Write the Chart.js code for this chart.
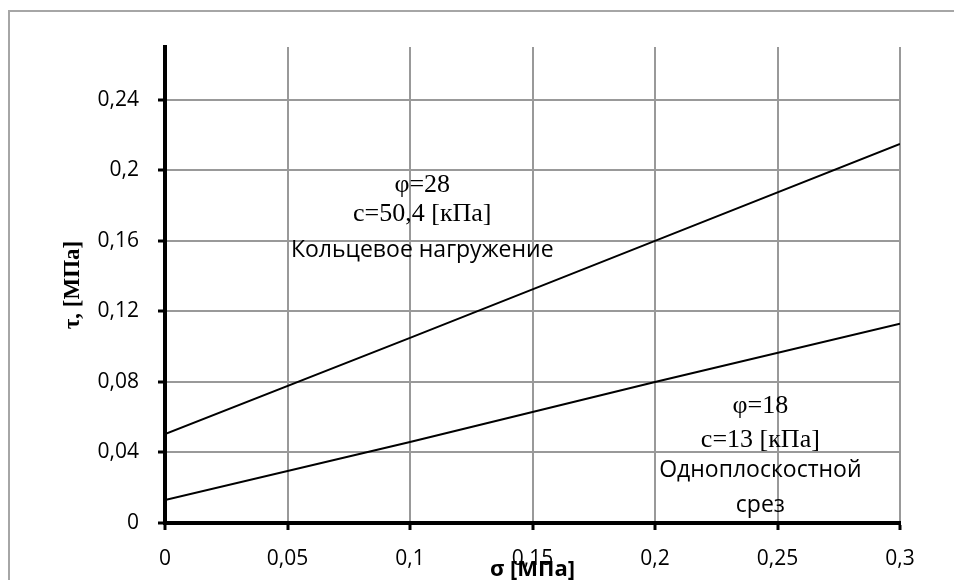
<!DOCTYPE html>
<html>
<head>
<meta charset="utf-8">
<script src="https://cdn.jsdelivr.net/npm/chart.js@4.4.1/dist/chart.umd.min.js"></script>
<style>
  html, body { margin: 0; padding: 0; background: #fff; overflow: hidden; }
  #wrap { position: relative; width: 954px; height: 580px; }
  #frame { position: absolute; left: 8px; top: 10px; width: 2000px; height: 2000px;
           border-left: 2px solid #a6a6a6; border-top: 2px solid #a6a6a6; pointer-events: none; }
</style>
</head>
<body>
<div id="wrap">
  <canvas id="Chart" width="954" height="580"></canvas>
  <div id="frame"></div>
</div>
<script>
// sigma, MPa
const sigma = [0, 0.1, 0.2, 0.3];
// ring shear (phi=28, c=50.4 kPa)
const tauRing = [0.0504, 0.105, 0.160, 0.215];
// direct shear (phi=18, c=13 kPa)
const tauDirect = [0.013, 0.046, 0.080, 0.113];

const xTicks = [0, 0.05, 0.1, 0.15, 0.2, 0.25, 0.3];
const yTicks = [0, 0.04, 0.08, 0.12, 0.16, 0.2, 0.24];

// text notes: [x, y, text, font]
const notes = [
  [0.105, 0.1917, 'φ=28', '26px "Liberation Serif"'],
  [0.105, 0.1752, 'c=50,4 [кПа]', '26px "Liberation Serif"'],
  [0.105, 0.1547, 'Кольцевое нагружение', '23px "Open Sans"'],
  [0.243, 0.0660, 'φ=18', '26px "Liberation Serif"'],
  [0.243, 0.0472, 'c=13 [кПа]', '26px "Liberation Serif"'],
  [0.243, 0.0296, 'Одноплоскостной', '23px "Open Sans"'],
  [0.243, 0.0102, 'срез', '23px "Open Sans"']
];

const fmt = v => String(+(+v).toFixed(2)).replace('.', ',');

const notesPlugin = {
  id: 'notes',
  afterDatasetsDraw(chart) {
    const { ctx, scales: { x, y } } = chart;
    ctx.save();
    ctx.fillStyle = '#000';
    ctx.textAlign = 'center';
    ctx.textBaseline = 'middle';
    notes.forEach(([nx, ny, text, font]) => {
      ctx.font = font;
      ctx.fillText(text, x.getPixelForValue(nx), y.getPixelForValue(ny));
    });
    ctx.restore();
  }
};

const ctx = document.getElementById('Chart').getContext('2d');

new Chart(ctx, {
  type: 'scatter',
  data: {
    datasets: [{
      data: sigma.map((s, i) => ({ x: s, y: tauRing[i] })),
      showLine: true,
      borderColor: '#000',
      borderWidth: 2,
      pointRadius: 0
    }, {
      data: sigma.map((s, i) => ({ x: s, y: tauDirect[i] })),
      showLine: true,
      borderColor: '#000',
      borderWidth: 2,
      pointRadius: 0
    }]
  },
  options: {
    responsive: false,
    animation: false,
    layout: { padding: { top: 47, right: 54, bottom: 0, left: 0 } },
    plugins: {
      legend: { display: false },
      tooltip: { enabled: false }
    },
    scales: {
      x: {
        type: 'linear',
        min: 0,
        max: 0.3,
        afterBuildTicks: s => { s.ticks = xTicks.map(v => ({ value: v })); },
        afterFit: s => { s.height = 57; },
        border: { color: '#000', width: 4 },
        grid: { color: '#999', lineWidth: 2, tickColor: '#000', tickLength: 7, tickWidth: 3 },
        ticks: {
          color: '#000',
          padding: 16,
          font: { family: '"Open Sans"', size: 21 },
          callback: v => fmt(v)
        },
        title: {
          display: true,
          text: 'σ [МПа]',
          color: '#000',
          padding: { top: 0, bottom: -3 },
          font: { family: '"Open Sans"', size: 22, weight: 'bold' }
        }
      },
      y: {
        min: 0,
        max: 0.27,
        afterBuildTicks: s => { s.ticks = yTicks.map(v => ({ value: v })); },
        afterFit: s => { s.width = 165; },
        border: { color: '#000', width: 4 },
        grid: { color: '#999', lineWidth: 2, tickColor: '#000', tickLength: 7, tickWidth: 3 },
        ticks: {
          color: '#000',
          padding: 19,
          font: { family: '"Open Sans"', size: 21 },
          callback: v => fmt(v)
        },
        title: {
          display: true,
          text: 'τ, [МПа]',
          color: '#000',
          padding: { top: 59, bottom: 0 },
          font: { family: '"Liberation Serif"', size: 23, weight: 'bold' }
        }
      }
    }
  },
  plugins: [notesPlugin]
});
</script>
</body>
</html>
